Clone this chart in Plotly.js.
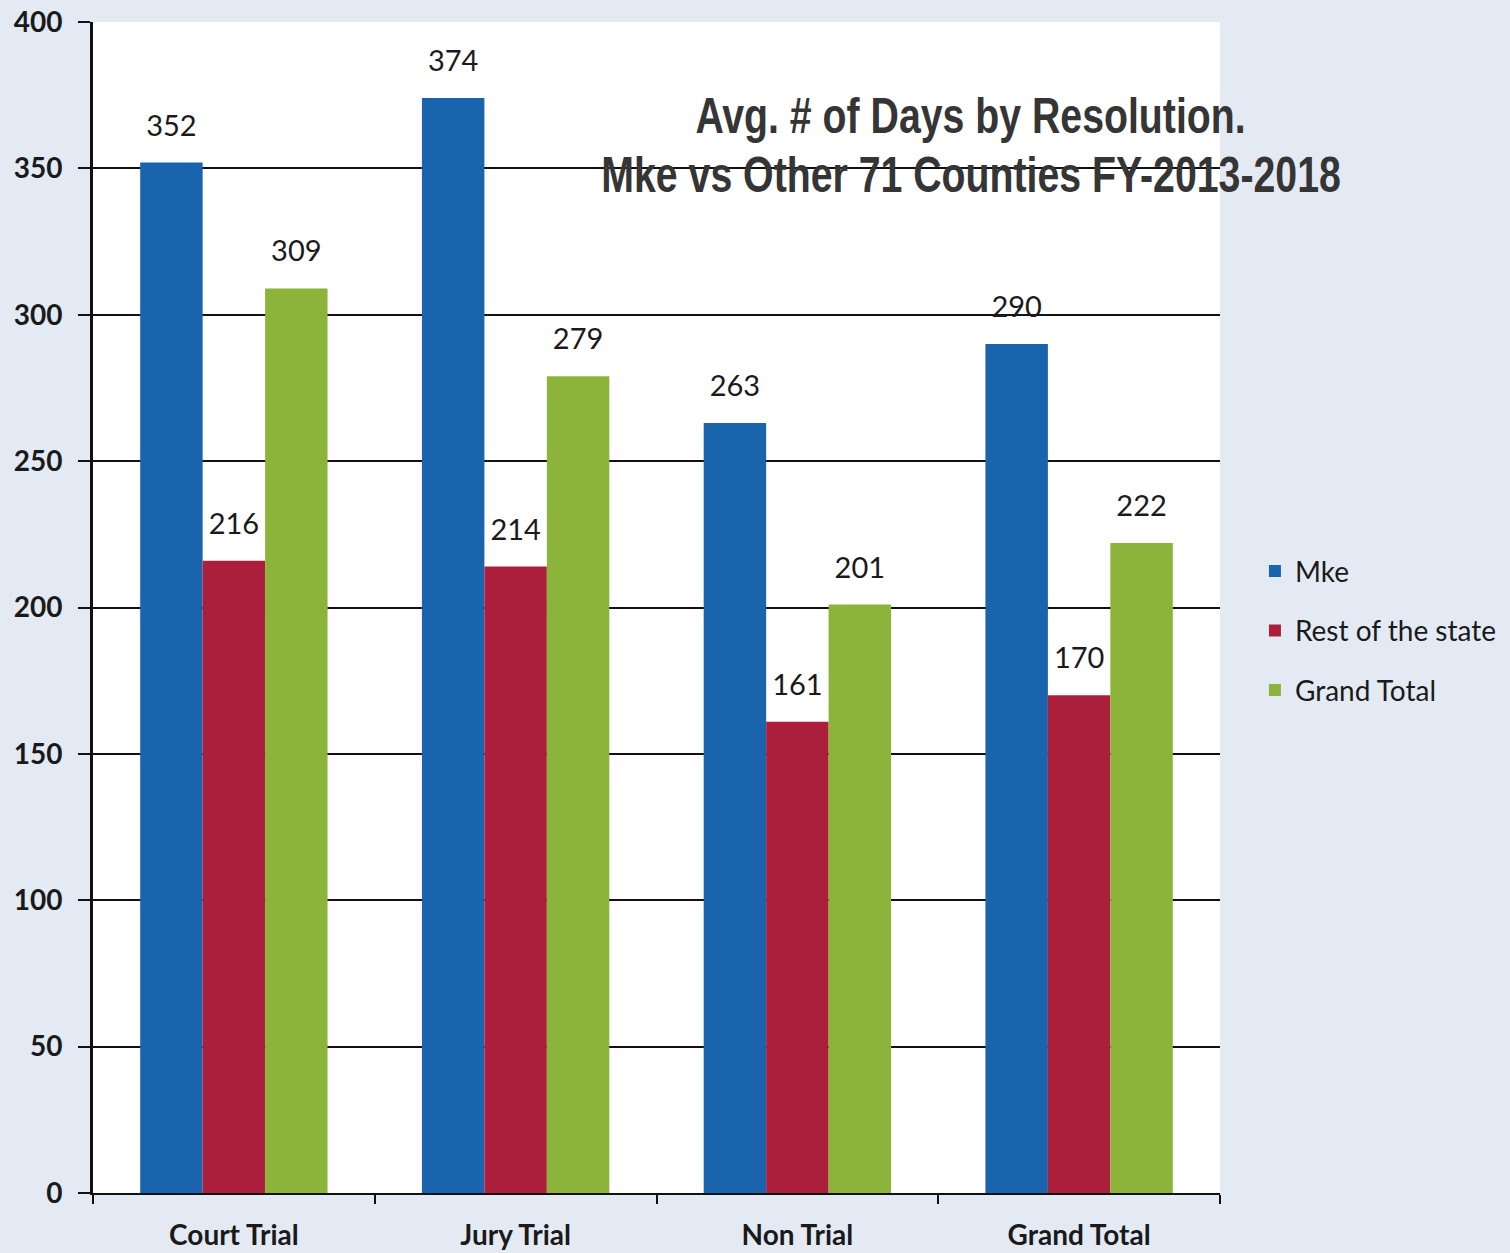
<!DOCTYPE html>
<html><head><meta charset="utf-8">
<script src="https://cdn.plot.ly/plotly-3.0.1.min.js"></script>
<style>html,body{margin:0;padding:0;background:#e4eaf4;}</style>
</head><body>
<div id="chart" style="width:1510px;height:1253px;"></div>
<script>
const categories = ["Court Trial", "Jury Trial", "Non Trial", "Grand Total"];
const mke = [352, 374, 263, 290];
const restOfState = [216, 214, 161, 170];
const grandTotal = [309, 279, 201, 222];
const seriesNames = ["Mke", "Rest of the state", "Grand Total"];
const colors = ["#1a64ae", "#ab1f3c", "#8cb43a"];
const titleLines = ["Avg. # of Days by Resolution.", "Mke vs Other 71 Counties FY-2013-2018"];
const yTicks = [0, 50, 100, 150, 200, 250, 300, 350, 400];

const seriesVals = [mke, restOfState, grandTotal];
const FONT = "Lato, 'Open Sans', sans-serif";
const labelFont = {family: FONT, size: 29, color: "#1a1a1a"};

const traces = [];
seriesVals.forEach((vals, i) => {
  traces.push({
    type: "bar", name: seriesNames[i], x: categories, y: vals,
    marker: {color: colors[i], line: {width: 0}},
    offsetgroup: String(i), legendgroup: "g" + i, hoverinfo: "x+y"
  });
});
seriesVals.forEach((vals, i) => {
  traces.push({
    type: "scatter", mode: "markers+text", x: categories, y: vals,
    text: vals.map(String), textposition: "top center",
    marker: {size: 30, color: "rgba(0,0,0,0)"},
    textfont: labelFont, offsetgroup: String(i),
    showlegend: false, hoverinfo: "skip", cliponaxis: false
  });
});

const layout = {
  width: 1510, height: 1253,
  paper_bgcolor: "#e4eaf4", plot_bgcolor: "#ffffff",
  margin: {l: 93, r: 290, t: 22, b: 60, autoexpand: false},
  barmode: "group", scattermode: "group", bargap: 0.335, bargroupgap: 0,
  showlegend: true,
  legend: {x: 1.031, y: 0.48, xanchor: "left", yanchor: "middle",
    font: {family: FONT, size: 28, color: "#1a1a1a"},
    bgcolor: "rgba(0,0,0,0)", tracegroupgap: 20, itemsizing: "constant"},
  xaxis: {
    type: "category", showline: true, linecolor: "#111", linewidth: 2,
    ticks: "outside", tickson: "boundaries", ticklen: 9, tickwidth: 2, tickcolor: "#111",
    ticklabelstandoff: 16,
    tickfont: {family: FONT, size: 28, color: "#1a1a1a", weight: "bold"},
    showgrid: false, zeroline: false, mirror: false
  },
  yaxis: {
    range: [0, 400], tickvals: yTicks, ticktext: yTicks.map(String),
    showline: true, linecolor: "#111", linewidth: 3,
    ticks: "outside", ticklen: 12, tickwidth: 2, tickcolor: "#111",
    ticklabelstandoff: 10,
    showgrid: true, gridcolor: "#111", gridwidth: 2, zeroline: false,
    tickfont: {family: FONT, size: 28, color: "#1a1a1a", weight: "bold"}
  },
  annotations: titleLines.map((t, i) => ({
    xref: "paper", yref: "paper", x: 0.779, y: 0.920 - i * 0.051,
    xanchor: "center", yanchor: "middle", showarrow: false, text: t,
    font: {family: "'Liberation Sans Narrow', 'Arial Narrow', 'Liberation Sans', Arial, sans-serif",
      size: 50, color: "#353535", weight: "bold"}
  }))
};

Plotly.newPlot("chart", traces, layout, {displayModeBar: false, staticPlot: true}).then(gd => {
  // emulate a narrow (condensed) face by compressing the glyphs horizontally
  gd.querySelectorAll(".annotation-text").forEach(t => {
    const w = t.getComputedTextLength();
    t.setAttribute("textLength", (w * 0.785).toFixed(1));
    t.setAttribute("lengthAdjust", "spacingAndGlyphs");
  });
});
</script>
</body></html>
